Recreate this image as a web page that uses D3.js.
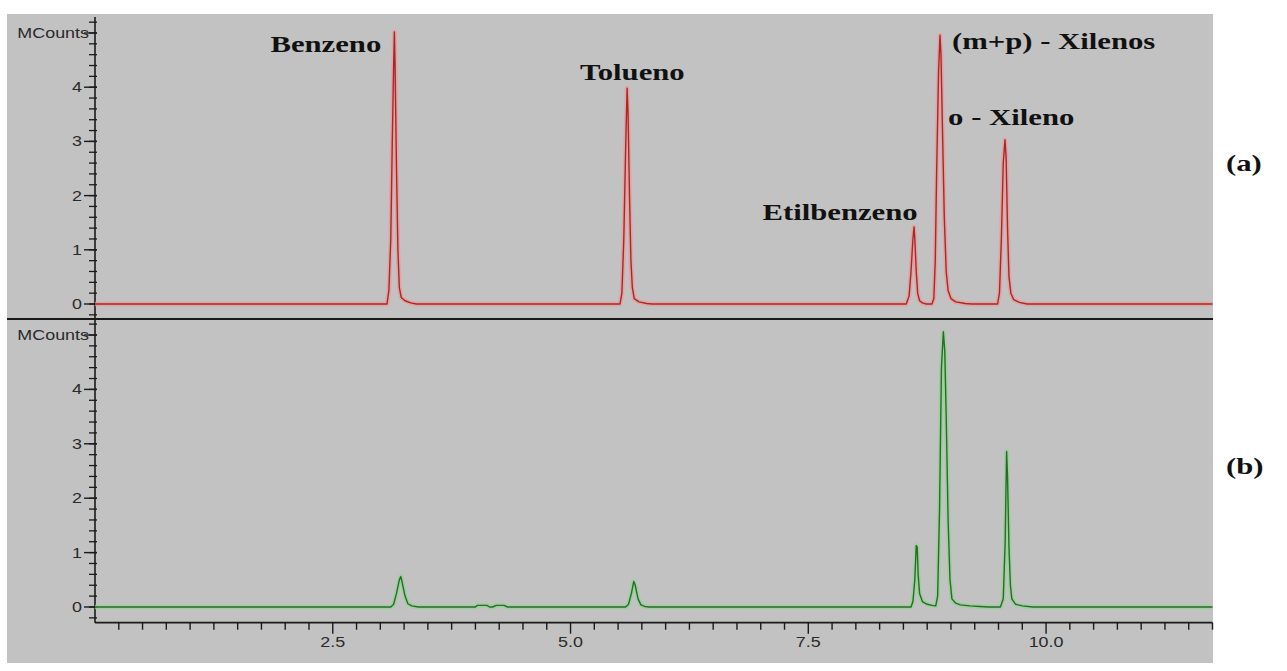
<!DOCTYPE html>
<html>
<head>
<meta charset="utf-8">
<script src="https://cdn.jsdelivr.net/npm/d3@7"></script>
<style>
  html, body { margin: 0; padding: 0; background: #ffffff; }
  svg { display: block; }
</style>
</head>
<body>
<svg id="chart" width="1287" height="671"></svg>
<script>
// ---------- DATA ----------
// Trace (a): retention time (min) and signal (MCounts)
const timeA = [0, 3.07, 3.09, 3.11, 3.125, 3.14, 3.148, 3.155, 3.17, 3.185, 3.20, 3.22, 3.26, 3.32, 3.38,
  5.52, 5.54, 5.56, 5.58, 5.595, 5.605, 5.62, 5.635, 5.65, 5.67, 5.72, 5.80, 5.86,
  8.53, 8.56, 8.58, 8.60, 8.612, 8.62, 8.635, 8.65, 8.67, 8.70, 8.74,
  8.80, 8.82, 8.835, 8.85, 8.87, 8.885, 8.895, 8.91, 8.93, 8.95, 8.97, 9.00, 9.05, 9.15, 9.22,
  9.49, 9.51, 9.53, 9.55, 9.568, 9.58, 9.595, 9.61, 9.63, 9.66, 9.72, 9.80, 11.75];
const valueA = [0, 0, 0.25, 1.2, 2.9, 4.4, 5.02, 4.4, 2.5, 1.0, 0.3, 0.12, 0.06, 0.02, 0,
  0, 0.2, 1.2, 2.9, 3.98, 3.5, 2.0, 0.8, 0.3, 0.1, 0.04, 0.01, 0,
  0, 0.15, 0.6, 1.2, 1.42, 1.2, 0.6, 0.2, 0.06, 0.02, 0,
  0, 0.1, 0.8, 2.5, 4.3, 4.96, 4.6, 3.3, 1.6, 0.6, 0.25, 0.1, 0.04, 0.01, 0,
  0, 0.2, 1.2, 2.6, 3.03, 2.7, 1.4, 0.5, 0.2, 0.08, 0.03, 0, 0];

// Trace (b)
const timeB = [0, 3.11, 3.14, 3.17, 3.20, 3.215, 3.23, 3.26, 3.29, 3.33, 3.40,
  4.00, 4.02, 4.12, 4.15, 4.18, 4.22, 4.30, 4.34,
  5.58, 5.61, 5.64, 5.665, 5.68, 5.71, 5.74, 5.78, 5.83,
  8.58, 8.60, 8.62, 8.635, 8.645, 8.655, 8.67, 8.70, 8.75, 8.80,
  8.84, 8.86, 8.88, 8.90, 8.92, 8.935, 8.95, 8.97, 8.99, 9.01, 9.05, 9.10, 9.20, 9.30, 9.40,
  9.52, 9.55, 9.57, 9.585, 9.595, 9.61, 9.625, 9.64, 9.68, 9.75, 9.86, 11.75];
const valueB = [0, 0, 0.05, 0.25, 0.5, 0.56, 0.45, 0.2, 0.06, 0.02, 0,
  0, 0.03, 0.03, 0, 0, 0.03, 0.03, 0,
  0, 0.05, 0.25, 0.47, 0.4, 0.15, 0.04, 0.01, 0,
  0, 0.1, 0.5, 1.13, 1.1, 0.6, 0.25, 0.1, 0.05, 0.03,
  0.02, 0.2, 1.8, 4.4, 5.06, 4.7, 3.5, 1.6, 0.5, 0.15, 0.07, 0.04, 0.02, 0.01, 0,
  0, 0.15, 1.2, 2.86, 2.4, 1.1, 0.4, 0.15, 0.05, 0.02, 0, 0];

// Axis ticks
const xTickValues = [2.5, 5.0, 7.5, 10.0];
const xTickLabels = ["2.5", "5.0", "7.5", "10.0"];
const yTickValues = [0, 1, 2, 3, 4];
const yTickLabels = ["0", "1", "2", "3", "4"];
const yUnitLabel = "MCounts";
const yUnitValue = 5;

// Peak annotations (panel a)
const peakNames = ["Benzeno", "Tolueno", "Etilbenzeno", "(m+p) - Xilenos", "o - Xileno"];
const peakLabelTime = [3.01, 5.10, 8.65, 9.01, 8.97];
const peakLabelValue = [4.65, 4.13, 1.55, 4.70, 3.30];
const peakLabelAnchor = ["end", "start", "end", "start", "start"];
const panelNames = ["(a)", "(b)"];

// ---------- LAYOUT ----------
const svg = d3.select("#chart");
const SX = 1.28; // horizontal stretch of the original raster text
const bg = { x: 7, y: 14, w: 1206, h: 649 };
const axisX = 95, plotRight = 1212.5;
const divY = 319, xAxisY = 622.7;

const x = d3.scaleLinear().domain([0, 11.75]).range([axisX, plotRight]);
const yA = d3.scaleLinear().domain([0, 5]).range([304, 33]);
const yB = d3.scaleLinear().domain([0, 5]).range([607, 335]);

svg.append("rect").attr("x", bg.x).attr("y", bg.y).attr("width", bg.w).attr("height", bg.h)
  .attr("fill", "#c2c2c2");

// ---------- AXES ----------
const axisColor = "#1a1a1a";
const labelColor = "#2a2a2a";
const tickFont = "Arial, 'Liberation Sans', sans-serif";

function drawYAxis(y, top, bottom) {
  const g = svg.append("g");
  g.append("line").attr("x1", axisX).attr("x2", axisX).attr("y1", top).attr("y2", bottom)
    .attr("stroke", axisColor).attr("stroke-width", 1.6);
  const minor = d3.range(-4, 27).map(i => i * 0.2).filter(v => y(v) > top + 1 && y(v) < bottom - 1);
  g.selectAll("line.minor").data(minor).enter().append("line")
    .attr("x1", axisX - 6).attr("x2", axisX + 2)
    .attr("y1", d => y(d)).attr("y2", d => y(d))
    .attr("stroke", axisColor).attr("stroke-width", 1.3);
  const major = yTickValues.concat([yUnitValue]);
  g.selectAll("line.major").data(major).enter().append("line")
    .attr("x1", axisX - 11).attr("x2", axisX + 2)
    .attr("y1", d => y(d)).attr("y2", d => y(d))
    .attr("stroke", axisColor).attr("stroke-width", 1.4);
  g.selectAll("text.tl").data(yTickValues).enter().append("text")
    .attr("transform", d => `translate(${axisX - 13},${y(d) + 5}) scale(${SX},1)`)
    .attr("text-anchor", "end")
    .attr("font-family", tickFont).attr("font-size", 14).attr("fill", labelColor)
    .text((d, i) => yTickLabels[i]);
  g.append("text")
    .attr("transform", `translate(${axisX - 6},${y(yUnitValue) + 5}) scale(${SX},1)`)
    .attr("text-anchor", "end")
    .attr("font-family", tickFont).attr("font-size", 14).attr("fill", labelColor)
    .text(yUnitLabel);
}
drawYAxis(yA, 17, divY);
drawYAxis(yB, divY, xAxisY);

// divider between panels
svg.append("line").attr("x1", bg.x).attr("x2", bg.x + bg.w).attr("y1", divY).attr("y2", divY)
  .attr("stroke", axisColor).attr("stroke-width", 2);

// x axis
const xg = svg.append("g");
xg.append("line").attr("x1", axisX).attr("x2", plotRight).attr("y1", xAxisY).attr("y2", xAxisY)
  .attr("stroke", axisColor).attr("stroke-width", 1.8);
const xMinor = d3.range(1, 48).map(i => i * 0.25).filter(v => x(v) <= plotRight);
xg.selectAll("line.xm").data(xMinor).enter().append("line")
  .attr("x1", d => x(d)).attr("x2", d => x(d))
  .attr("y1", xAxisY).attr("y2", d => xTickValues.includes(d) ? xAxisY + 11 : xAxisY + 7)
  .attr("stroke", axisColor).attr("stroke-width", 1.4);
xg.selectAll("text.xl").data(xTickValues).enter().append("text")
  .attr("transform", d => `translate(${x(d)},${xAxisY + 24}) scale(${SX},1)`)
  .attr("text-anchor", "middle")
  .attr("font-family", tickFont).attr("font-size", 14).attr("fill", labelColor)
  .text((d, i) => xTickLabels[i]);

// ---------- TRACES ----------
function drawTrace(times, values, y, halo, core) {
  const pts = times.map((t, i) => [t, values[i]]);
  const line = d3.line().x(d => x(d[0])).y(d => y(d[1]));
  svg.append("path").attr("d", line(pts)).attr("fill", "none")
    .attr("stroke", halo).attr("stroke-width", 4.5).attr("stroke-linejoin", "round").attr("opacity", 0.75);
  svg.append("path").attr("d", line(pts)).attr("fill", "none")
    .attr("stroke", core).attr("stroke-width", 1.4).attr("stroke-linejoin", "round");
}
drawTrace(timeA, valueA, yA, "#eb9a9a", "#a82828");
drawTrace(timeB, valueB, yB, "#8fd48f", "#2b6a2b");

// ---------- ANNOTATIONS ----------
const serif = "'Liberation Serif', 'Times New Roman', serif";
svg.selectAll("text.peak").data(peakNames).enter().append("text")
  .attr("transform", (d, i) => `translate(${x(peakLabelTime[i])},${yA(peakLabelValue[i])}) scale(${SX},1)`)
  .attr("text-anchor", (d, i) => peakLabelAnchor[i])
  .attr("font-family", serif).attr("font-weight", "bold").attr("font-size", 24)
  .attr("fill", "#111").text(d => d);

const panelY = [171, 474];
svg.selectAll("text.panel").data(panelNames).enter().append("text")
  .attr("transform", (d, i) => `translate(1226,${panelY[i]}) scale(${SX},1)`)
  .attr("font-family", serif).attr("font-weight", "bold").attr("font-size", 24)
  .attr("fill", "#111").text(d => d);
</script>
</body>
</html>
